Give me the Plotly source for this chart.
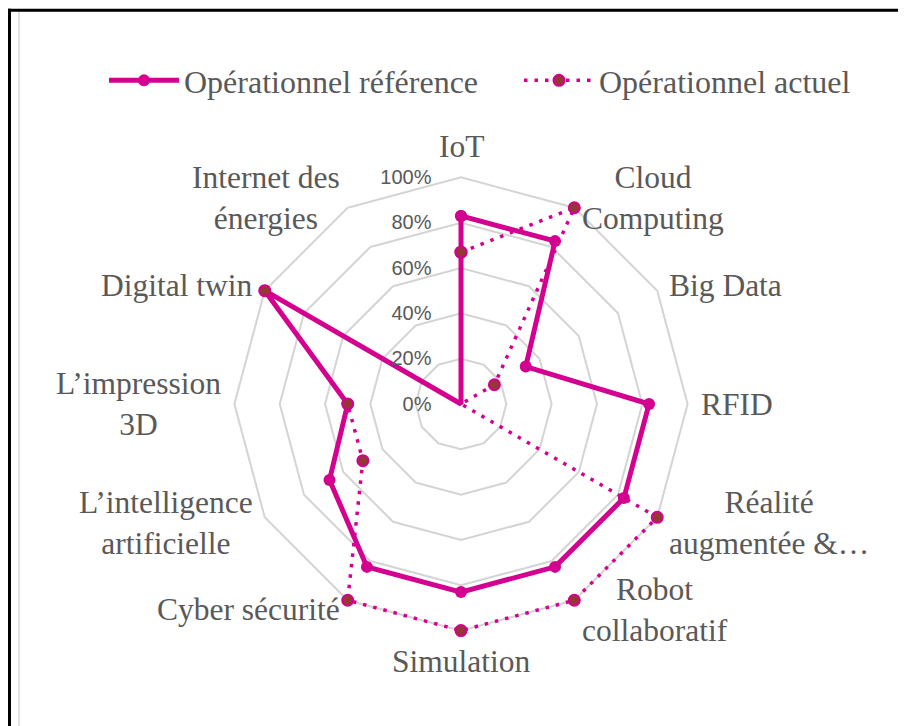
import math
import plotly.graph_objects as go

categories = ['IoT', 'Cloud<br>Computing', 'Big Data', 'RFID',
              'Réalité<br>augmentée &…', 'Robot<br>collaboratif', 'Simulation',
              'Cyber sécurité', 'L’intelligence<br>artificielle',
              'L’impression<br>3D', 'Digital twin', 'Internet des<br>énergies']
reference = [83, 83, 33, 83, 83, 83, 83, 83, 67, 50, 100, 0]
actuel = [67, 100, 17, 0, 100, 100, 100, 100, 50, 50, 100, 0]
tick_vals = [0, 20, 40, 60, 80, 100]
tick_text = ['0%', '20%', '40%', '60%', '80%', '100%']

# page has an 8px body margin, so the figure is a bit smaller and shifted
OFF = 8
W, H = 906 - OFF, 726 - OFF
cx, cy, rad = 461 - OFF, 404 - OFF, 227
r_max = 101.5            # a bit of room so lines on the 100% ring are not clipped
rad_out = rad * r_max / 100
# wide plot area (so the horizontal legend fits on one row),
# the polar domain is then narrowed to a square around the centre
L, R = 10, 10
T, B = cy - rad_out, H - (cy + rad_out)
PW = W - L - R
magenta = '#d4008f'
grey_text = '#595959'
serif = 'Liberation Serif'
label_gap = 238


def px_x(x):
    return (x - L) / PW


def px_y(y):
    return (H - B - y) / (H - T - B)


def closed(vals):
    return vals + vals[:1]


fig = go.Figure()
fig.add_trace(go.Scatterpolar(
    r=closed(reference), theta=closed(categories),
    name='Opérationnel référence', mode='lines+markers', cliponaxis=False,
    line=dict(color=magenta, width=5),
    marker=dict(color=magenta, size=12)))
fig.add_trace(go.Scatterpolar(
    r=closed(actuel), theta=closed(categories),
    name='Opérationnel actuel', mode='lines+markers', cliponaxis=False,
    line=dict(color=magenta, width=3.5, dash='3.5px,7px'),
    marker=dict(color='#953735', size=11, line=dict(color=magenta, width=2))))

# category labels placed like Excel does (outside the outer ring)
annotations = []
n = len(categories)
for i, cat in enumerate(categories):
    a = 2 * math.pi * i / n
    s, c = math.sin(a), math.cos(a)
    x = cx + label_gap * s
    y = cy - label_gap * c
    xa = 'left' if s > 0.1 else ('right' if s < -0.1 else 'center')
    ya = 'bottom' if c > 0.9 else ('top' if c < -0.9 else 'middle')
    annotations.append(dict(text=cat, xref='paper', yref='paper',
                            x=px_x(x), y=px_y(y), xanchor=xa, yanchor=ya,
                            align='center', showarrow=False,
                            font=dict(family=serif, size=31.5, color=grey_text)))

fig.update_layout(
    width=W, height=H,
    margin=dict(l=L, r=R, t=T, b=B, autoexpand=False),
    paper_bgcolor='white',
    font=dict(family=serif, size=32, color=grey_text),
    showlegend=True,
    legend=dict(orientation='h', x=px_x(96), xanchor='left',
                y=px_y(72), yanchor='middle', itemwidth=70, entrywidth=330,
                font=dict(family=serif, size=32, color=grey_text)),
    annotations=annotations,
    polar=dict(
        domain=dict(x=[px_x(cx - rad_out), px_x(cx + rad_out)], y=[0, 1]),
        bgcolor='white',
        gridshape='linear',
        radialaxis=dict(range=[0, r_max], tickvals=tick_vals,
                        ticktext=tick_text,
                        angle=90, tickangle=90, side='counterclockwise',
                        showline=False, ticks='outside', ticklen=22,
                        tickcolor='rgba(0,0,0,0)', gridcolor='#d4d4d4',
                        gridwidth=1.5,
                        tickfont=dict(family='Liberation Sans', size=20,
                                      color=grey_text)),
        angularaxis=dict(rotation=90, direction='clockwise', showgrid=False,
                         showline=False, showticklabels=False, ticks=''),
    ),
    shapes=[
        dict(type='rect', xref='paper', yref='paper',
             x0=px_x(11), x1=px_x(895), y0=px_y(2), y1=px_y(760),
             line=dict(color='#d9d9d9', width=1.5)),
        dict(type='line', xref='paper', yref='paper',
             x0=px_x(0), x1=px_x(920), y0=px_y(1.5), y1=px_y(1.5),
             line=dict(color='black', width=3)),
        dict(type='line', xref='paper', yref='paper',
             x0=px_x(1.5), x1=px_x(1.5), y0=px_y(0), y1=px_y(740),
             line=dict(color='black', width=3)),
    ],
)

fig.write_html('out.html')
